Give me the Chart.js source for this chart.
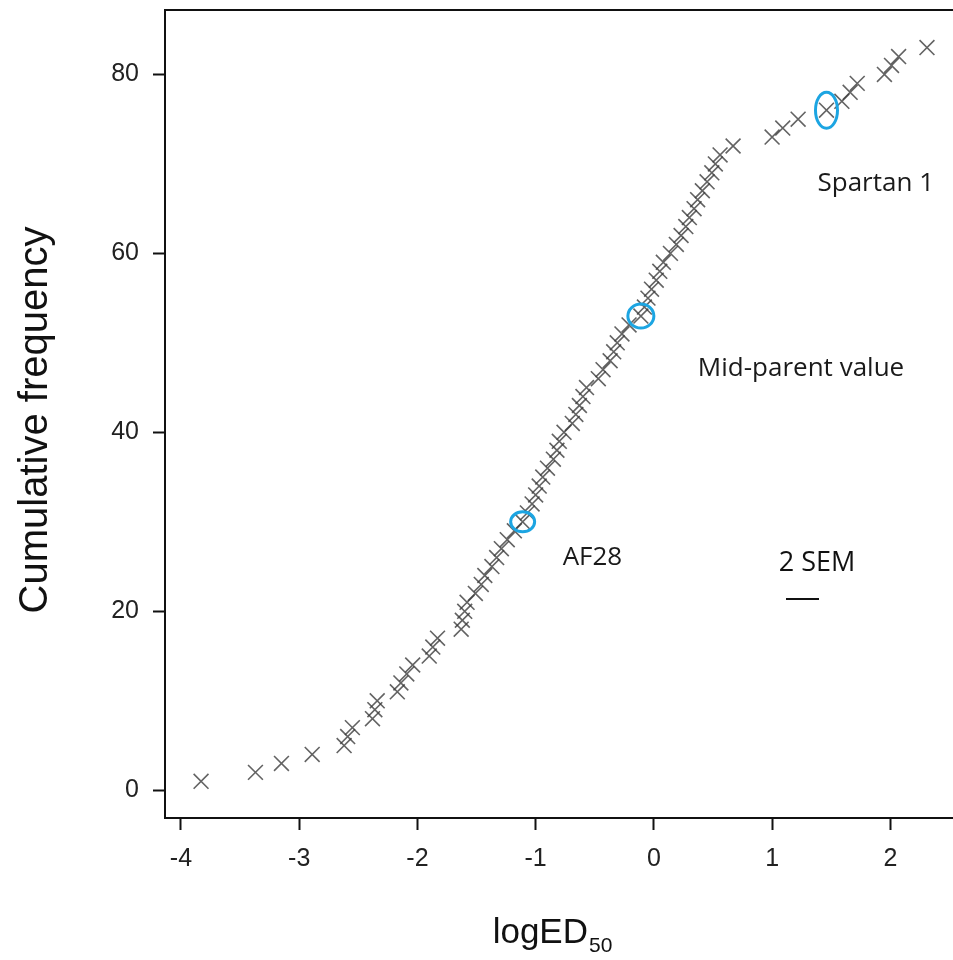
<!DOCTYPE html>
<html>
<head>
<meta charset="utf-8">
<title>logED50 cumulative frequency</title>
<script src="https://cdn.jsdelivr.net/npm/chart.js@4.4.1/dist/chart.umd.min.js"></script>
<style>
  html, body { margin: 0; padding: 0; background: #fff; }
  #plot { display: block; }
</style>
</head>
<body>
<canvas id="plot" width="953" height="960"></canvas>
<script>
// logED50 of each line, sorted, and its rank (cumulative frequency)
const logED50 = [
  -3.83, -3.37, -3.15, -2.89, -2.62, -2.59, -2.55, -2.38, -2.36, -2.34,
  -2.17, -2.14, -2.09, -2.04, -1.90, -1.87, -1.83, -1.63, -1.62, -1.60,
  -1.58, -1.51, -1.46, -1.43, -1.37, -1.33, -1.29, -1.24, -1.18, -1.11,
  -1.07, -1.03, -1.00, -0.97, -0.94, -0.90, -0.85, -0.82, -0.80, -0.76,
  -0.69, -0.66, -0.63, -0.60, -0.57, -0.47, -0.43, -0.37, -0.34, -0.31,
  -0.27, -0.21, -0.11, -0.08, -0.05, -0.02, 0.02, 0.05, 0.08, 0.14,
  0.19, 0.23, 0.27, 0.30, 0.34, 0.37, 0.41, 0.45, 0.49, 0.52,
  0.56, 0.67, 1.00, 1.09, 1.22, 1.46, 1.59, 1.66, 1.72, 1.95,
  2.01, 2.07, 2.31
];
const cumFreq = [
  1, 2, 3, 4, 5, 6, 7, 8, 9, 10,
  11, 12, 13, 14, 15, 16, 17, 18, 19, 20,
  21, 22, 23, 24, 25, 26, 27, 28, 29, 30,
  31, 32, 33, 34, 35, 36, 37, 38, 39, 40,
  41, 42, 43, 44, 45, 46, 47, 48, 49, 50,
  51, 52, 53, 54, 55, 56, 57, 58, 59, 60,
  61, 62, 63, 64, 65, 66, 67, 68, 69, 70,
  71, 72, 73, 74, 75, 76, 77, 78, 79, 80,
  81, 82, 83
];

// named lines that get a ring and a label
const markedNames = ['AF28', 'Mid-parent value', 'Spartan 1'];
const markedRank = [30, 53, 76];

const xTicks = [-4, -3, -2, -1, 0, 1, 2];
const yTicks = [0, 20, 40, 60, 80];

const points = logED50.map((v, i) => ({ x: v, y: cumFreq[i] }));

const AXIS_FONT = "'Liberation Sans', Arial, sans-serif";
const NOTE_FONT = "'Open Sans', 'Noto Sans', sans-serif";

// ring size and label offset for each marked line
const ringStyle = [
  { rx: 12, ry: 10, dx: 40, dy: 36 },
  { rx: 13, ry: 12, dx: 57, dy: 53 },
  { rx: 11, ry: 18, dx: -9, dy: 73 }
];

const decorations = {
  id: 'decorations',
  afterDatasetsDraw(chart) {
    const { ctx, chartArea, scales } = chart;
    ctx.save();

    // top edge of the frame (no right edge)
    ctx.strokeStyle = '#111';
    ctx.lineWidth = 2;
    ctx.beginPath();
    ctx.moveTo(chartArea.left - 1, chartArea.top);
    ctx.lineTo(chartArea.right + 2, chartArea.top);
    ctx.stroke();

    // rings + labels
    markedRank.forEach((rank, k) => {
      const i = cumFreq.indexOf(rank);
      const px = scales.x.getPixelForValue(logED50[i]);
      const py = scales.y.getPixelForValue(cumFreq[i]);
      const s = ringStyle[k];
      ctx.strokeStyle = 'rgb(28,165,226)';
      ctx.lineWidth = 3;
      ctx.beginPath();
      ctx.ellipse(px, py, s.rx, s.ry, 0, 0, Math.PI * 2);
      ctx.stroke();

      ctx.fillStyle = '#1a1a1a';
      ctx.font = '26px ' + NOTE_FONT;
      ctx.textAlign = 'left';
      ctx.textBaseline = 'middle';
      ctx.fillText(markedNames[k], px + s.dx, py + s.dy);
    });

    // 2 SEM scale bar
    ctx.fillStyle = '#111';
    ctx.font = '27px ' + NOTE_FONT;
    ctx.textAlign = 'center';
    ctx.textBaseline = 'middle';
    ctx.fillText('2 SEM', 817, 563);
    ctx.strokeStyle = '#111';
    ctx.lineWidth = 2;
    ctx.beginPath();
    ctx.moveTo(786, 599);
    ctx.lineTo(819, 599);
    ctx.stroke();

    // axis titles
    ctx.fillStyle = '#111';
    ctx.font = '40px ' + AXIS_FONT;
    ctx.save();
    ctx.translate(36, 420);
    ctx.rotate(-Math.PI / 2);
    ctx.textAlign = 'center';
    ctx.textBaseline = 'middle';
    ctx.fillText('Cumulative frequency', 0, 0);
    ctx.restore();

    const main = 'logED';
    const sub = '50';
    ctx.font = '35px ' + AXIS_FONT;
    const wMain = ctx.measureText(main).width;
    ctx.font = '21px ' + AXIS_FONT;
    const wSub = ctx.measureText(sub).width;
    const x0 = 552 - (wMain + wSub) / 2;
    ctx.textAlign = 'left';
    ctx.textBaseline = 'alphabetic';
    ctx.font = '35px ' + AXIS_FONT;
    ctx.fillText(main, x0, 943);
    ctx.font = '21px ' + AXIS_FONT;
    ctx.fillText(sub, x0 + wMain + 1, 952);

    ctx.restore();
  }
};

new Chart(document.getElementById('plot'), {
  type: 'scatter',
  data: {
    datasets: [{
      label: 'lines',
      data: points,
      pointStyle: 'crossRot',
      pointRadius: 10.5,
      pointHoverRadius: 10.5,
      pointBorderWidth: 1.6,
      pointBorderColor: 'rgba(60,60,60,0.8)',
      pointBackgroundColor: 'rgba(0,0,0,0)'
    }]
  },
  options: {
    responsive: false,
    animation: false,
    events: [],
    layout: { autoPadding: false, padding: { left: 0, right: 0, top: 10, bottom: 0 } },
    plugins: {
      legend: { display: false },
      tooltip: { enabled: false }
    },
    scales: {
      x: {
        type: 'linear',
        min: -4.135,
        max: 2.53,
        afterFit(scale) {
          scale.height = 142;
          scale.paddingLeft = 0;
          scale.paddingRight = 0;
        },
        afterBuildTicks(scale) { scale.ticks = xTicks.map(v => ({ value: v })); },
        border: { display: true, color: '#111', width: 2 },
        grid: { drawOnChartArea: false, drawTicks: true, tickLength: 12, tickWidth: 2, tickColor: '#111' },
        ticks: {
          padding: 14,
          color: '#222',
          font: { family: AXIS_FONT, size: 25 },
          maxRotation: 0
        }
      },
      y: {
        type: 'linear',
        min: -3.1,
        max: 87.2,
        afterFit(scale) {
          scale.width = 165;
          scale.paddingTop = 0;
          scale.paddingBottom = 0;
        },
        afterBuildTicks(scale) { scale.ticks = yTicks.map(v => ({ value: v })); },
        border: { display: true, color: '#111', width: 2 },
        grid: { drawOnChartArea: false, drawTicks: true, tickLength: 12, tickWidth: 2, tickColor: '#111' },
        ticks: {
          padding: 14,
          color: '#222',
          font: { family: AXIS_FONT, size: 25 }
        }
      }
    }
  },
  plugins: [decorations]
});
</script>
</body>
</html>
